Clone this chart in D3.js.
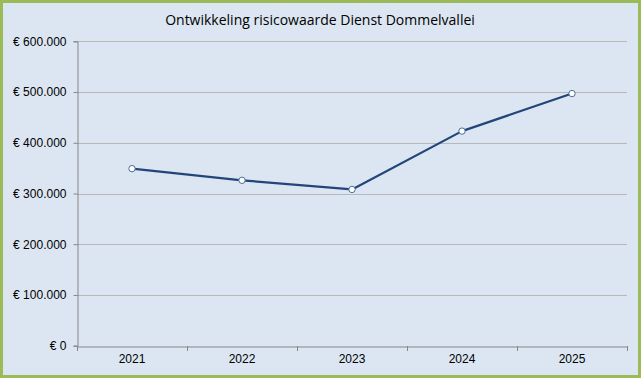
<!DOCTYPE html>
<html><head><meta charset="utf-8">
<script src="https://cdn.jsdelivr.net/npm/d3@7"></script>
<style>html,body{margin:0;padding:0;background:#fff;}svg{display:block;}</style>
</head><body>
<svg id="c" width="641" height="378"></svg>
<script>
const title = "Ontwikkeling risicowaarde Dienst Dommelvallei";
const years = ["2021", "2022", "2023", "2024", "2025"];
const values = [349000, 326000, 308000, 423000, 497000];
const yTicks = [0, 100000, 200000, 300000, 400000, 500000, 600000];

(function(){
const svg = d3.select("#c");
const W = 641, H = 378;
svg.append("rect").attr("x",1.5).attr("y",1.5).attr("width",W-3).attr("height",H-3)
  .attr("fill","#dce6f2").attr("stroke","#9bbb59").attr("stroke-width",3);

const pl = 77, pr = 627, pt = 41.3, pb = 345.7;
const x = d3.scaleBand().domain(years).range([pl, pr]);
const y = d3.scaleLinear().domain([0, 600000]).range([pb, pt]);
const fmt = v => "€ " + d3.format(",")(v).replace(/,/g, ".");

// gridlines
svg.append("g").selectAll("line").data(yTicks.filter(d=>d>0)).join("line")
  .attr("x1", pl).attr("x2", pr)
  .attr("y1", d=>Math.round(y(d))+0.5).attr("y2", d=>Math.round(y(d))+0.5)
  .attr("stroke","#b8b8b8").attr("stroke-width",1);

// y axis
const ya = svg.append("g").attr("transform",`translate(${pl+0.5},0)`)
  .call(d3.axisLeft(y).tickValues(yTicks).tickFormat(fmt).tickSize(4).tickPadding(7));
ya.select(".domain").attr("stroke","#868686");
ya.selectAll(".tick line").attr("stroke","#868686");
ya.selectAll("text").attr("font-family","Liberation Sans, Arial, sans-serif").attr("font-size","12px").attr("fill","#000");

// x axis
const xa = svg.append("g").attr("transform",`translate(0,${Math.round(pb)+0.5})`)
  .call(d3.axisBottom(x).tickSize(0).tickPadding(8));
xa.select(".domain").attr("stroke","#868686");
xa.selectAll("text").attr("font-family","Liberation Sans, Arial, sans-serif").attr("font-size","12px").attr("fill","#000");
const bounds = years.map(d=>x(d)).concat([pr]);
svg.append("g").selectAll("line").data(bounds).join("line")
  .attr("x1",d=>Math.round(d)+0.5).attr("x2",d=>Math.round(d)+0.5)
  .attr("y1",Math.round(pb)).attr("y2",Math.round(pb)+5)
  .attr("stroke","#868686");

// line
const line = d3.line().x((d,i)=>x(years[i])+x.bandwidth()/2).y(d=>y(d));
svg.append("path").datum(values).attr("d",line).attr("fill","none")
  .attr("stroke","#22457a").attr("stroke-width",2.2).attr("stroke-linejoin","round");
svg.append("g").selectAll("circle").data(values).join("circle")
  .attr("cx",(d,i)=>x(years[i])+x.bandwidth()/2).attr("cy",d=>y(d)).attr("r",3.2)
  .attr("fill","#ffffff").attr("stroke","#4a6f9e").attr("stroke-width",1);

// title
svg.append("text").attr("x",320).attr("y",25).attr("text-anchor","middle")
  .attr("font-family","Open Sans, Liberation Sans, sans-serif").attr("font-size","14px").attr("fill","#000")
  .text(title);
})();
</script>
</body></html>
